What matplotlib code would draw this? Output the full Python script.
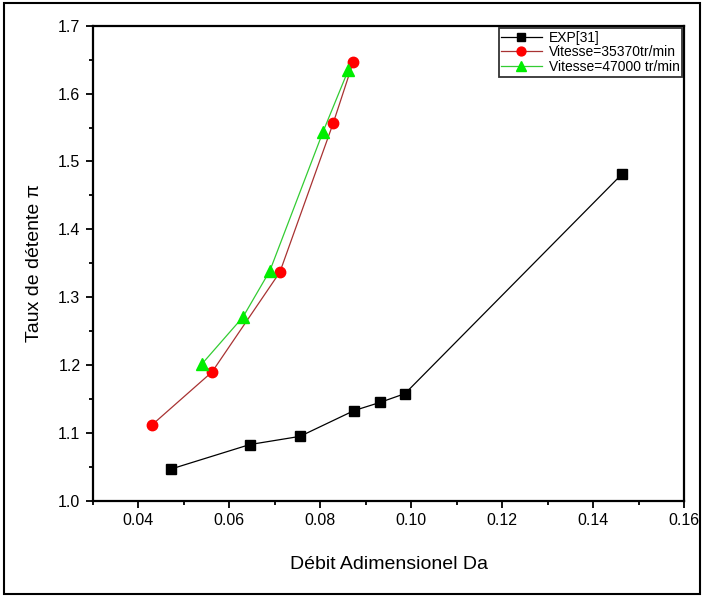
import matplotlib.pyplot as plt
from matplotlib.patches import Rectangle
from matplotlib.ticker import MultipleLocator

plt.rcParams['font.family'] = ['Liberation Sans', 'DejaVu Sans']

# experimental reference points
exp_da = [0.0472, 0.0645, 0.0755, 0.0874, 0.0931, 0.0986, 0.1464]
exp_pi = [1.047, 1.083, 1.095, 1.133, 1.145, 1.158, 1.482]

# simulation, 35370 tr/min
v1_da = [0.0430, 0.0562, 0.0711, 0.0828, 0.0872]
v1_pi = [1.112, 1.190, 1.337, 1.556, 1.646]

# simulation, 47000 tr/min
v2_da = [0.0540, 0.0630, 0.0689, 0.0806, 0.0861]
v2_pi = [1.202, 1.271, 1.339, 1.544, 1.634]

labels = ["EXP[31]", "Vitesse=35370tr/min", "Vitesse=47000 tr/min"]

fig = plt.figure(figsize=(7.04, 5.97), dpi=100)
ax = fig.add_axes([0.132, 0.161, 0.840, 0.796])

ax.plot(exp_da, exp_pi, color='black', lw=0.9, marker='s', ms=7,
        mfc='black', mec='black', label=labels[0])
ax.plot(v1_da, v1_pi, color='#a83232', lw=0.9, marker='o', ms=7.5,
        mfc='red', mec='red', label=labels[1])
ax.plot(v2_da, v2_pi, color='#33cc33', lw=0.9, marker='^', ms=8.5,
        mfc='#00ee00', mec='#00ee00', label=labels[2])

ax.set_xlim(0.03, 0.16)
ax.set_ylim(1.0, 1.7)
ax.xaxis.set_major_locator(MultipleLocator(0.02))
ax.xaxis.set_minor_locator(MultipleLocator(0.01))
ax.yaxis.set_major_locator(MultipleLocator(0.1))
ax.yaxis.set_minor_locator(MultipleLocator(0.05))
ax.xaxis.set_major_formatter(plt.FuncFormatter(lambda v, p: f"{v:.2f}"))
ax.yaxis.set_major_formatter(plt.FuncFormatter(lambda v, p: f"{v:.1f}"))
ax.tick_params(which='major', direction='out', length=5, width=1.3,
               labelsize=11.5, colors='black', pad=4)
ax.tick_params(which='minor', direction='out', length=3, width=1.3)
for s in ax.spines.values():
    s.set_linewidth(1.6)

ax.set_xlabel("Débit Adimensionel Da", fontsize=14, labelpad=20)
ax.set_ylabel("Taux de détente π", fontsize=14, labelpad=11)

leg = ax.legend(loc='upper right', fontsize=10, frameon=True, fancybox=False,
                shadow=False, borderpad=0.2, labelspacing=0.05,
                handlelength=2.9, handletextpad=0.5, borderaxespad=0.15,
                markerscale=0.85)
leg.get_frame().set_edgecolor('black')
leg.get_frame().set_linewidth(1.3)

# border around the whole figure
fig.patches.append(Rectangle((0.005, 0.005), 0.99, 0.99, transform=fig.transFigure,
                             fill=False, edgecolor='black', lw=1.5))

fig.savefig("out.png", dpi=100)
